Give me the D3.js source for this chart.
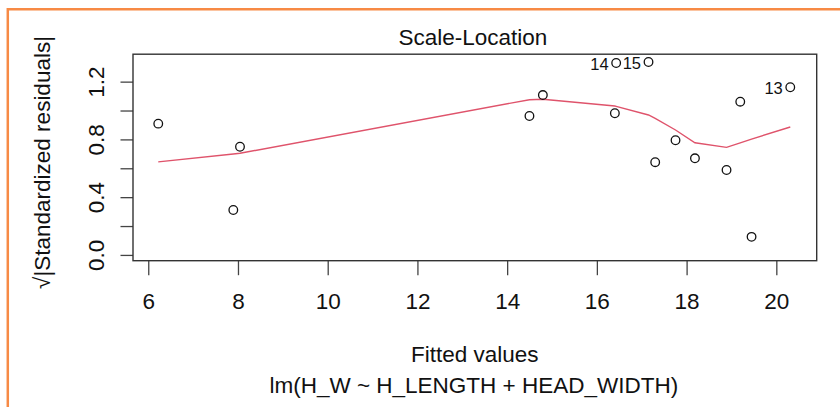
<!DOCTYPE html>
<html>
<head>
<meta charset="utf-8">
<script src="https://cdn.jsdelivr.net/npm/d3@7"></script>
<style>
  body { margin: 0; background: #fff; }
  svg text { font-family: "Liberation Sans", Arial, sans-serif; fill: #111; }
</style>
</head>
<body>
<div id="chart"></div>
<script>
// values
const fitted   = [6.223, 7.896, 8.045, 14.497, 14.796, 16.401, 16.430, 17.151, 17.300, 17.753, 18.186, 18.890, 19.196, 19.448, 20.311];
const sqrtRes  = [0.909, 0.311, 0.749, 0.962, 1.107, 0.981, 1.329, 1.336, 0.642, 0.794, 0.669, 0.588, 1.061, 0.125, 1.161];
const smooth   = [0.644, 0.699, 0.704, 1.075, 1.078, 1.031, 1.029, 0.969, 0.946, 0.865, 0.777, 0.745, 0.776, 0.802, 0.886];
const pointIds = ["", "", "", "", "", "", "14", "15", "", "", "", "", "", "", "13"];
const xTicks = [6, 8, 10, 12, 14, 16, 18, 20];
const yTicks = [0, 0.2, 0.4, 0.6, 0.8, 1.0, 1.2];
const yLabelled = [0, 0.4, 0.8, 1.2];

const width = 840, height = 407;
const box = { left: 133, top: 54.2, right: 816.7, bottom: 260.7 };

const svg = d3.select("#chart")
  .append("svg")
    .attr("width", width)
    .attr("height", height);

// orange frame at left and top
svg.append("path")
  .attr("d", `M7.8,${height} L7.8,9.2 L${width},9.2`)
  .attr("fill", "none")
  .attr("stroke", "#F78A45")
  .attr("stroke-width", 2.5);

const x = d3.scaleLinear()
  .domain([5.66, 20.9])
  .range([box.left, box.right]);

const y = d3.scaleLinear()
  .domain([-0.04, 1.39])
  .range([box.bottom, box.top]);

const data = fitted.map((f, i) => ({ x: f, y: sqrtRes[i], s: smooth[i], id: pointIds[i] }));

// axes
const xAxis = svg.append("g")
  .attr("transform", `translate(0,${box.bottom})`)
  .call(d3.axisBottom(x).tickValues(xTicks).tickSize(14.5).tickFormat(d3.format("d")));

xAxis.select(".domain").remove();
xAxis.selectAll("line").attr("stroke", "#444").attr("stroke-width", 1.3);
xAxis.selectAll("text")
  .attr("y", 48.3)
  .attr("dy", null)
  .style("font-size", "22.5px");

const yAxis = svg.append("g")
  .attr("transform", `translate(${box.left},0)`)
  .call(d3.axisLeft(y).tickValues(yTicks).tickSize(12.5)
    .tickFormat(d => yLabelled.includes(d) ? d3.format(".1f")(d) : ""));

yAxis.select(".domain").remove();
yAxis.selectAll("line").attr("stroke", "#444").attr("stroke-width", 1.3);
yAxis.selectAll("text")
  .attr("x", null)
  .attr("dy", null)
  .attr("text-anchor", "middle")
  .attr("transform", "translate(-29,0) rotate(-90)")
  .style("font-size", "22.5px");

// plot box
svg.append("rect")
  .attr("x", box.left)
  .attr("y", box.top)
  .attr("width", box.right - box.left)
  .attr("height", box.bottom - box.top)
  .attr("fill", "none")
  .attr("stroke", "#333")
  .attr("stroke-width", 1.4);

// lowess smooth
svg.append("path")
  .datum(data)
  .attr("fill", "none")
  .attr("stroke", "#DF536B")
  .attr("stroke-width", 1.4)
  .attr("d", d3.line().x(d => x(d.x)).y(d => y(d.s)));

// points
svg.selectAll(".pt")
  .data(data)
  .enter().append("circle")
    .attr("class", "pt")
    .attr("cx", d => x(d.x))
    .attr("cy", d => y(d.y))
    .attr("r", 4.3)
    .attr("fill", "none")
    .attr("stroke", "#111")
    .attr("stroke-width", 1.3);

// point ids
svg.selectAll(".pt-id")
  .data(data.filter(d => d.id !== ""))
  .enter().append("text")
    .attr("class", "pt-id")
    .attr("x", d => x(d.x) - 7.5)
    .attr("y", d => y(d.y) + 7)
    .attr("text-anchor", "end")
    .style("font-size", "16.5px")
    .text(d => d.id);

// titles
svg.append("text")
  .attr("x", (box.left + box.right) / 2 - 2)
  .attr("y", 45)
  .attr("text-anchor", "middle")
  .style("font-size", "22.5px")
  .text("Scale-Location");

svg.append("text")
  .attr("x", (box.left + box.right) / 2)
  .attr("y", 361.7)
  .attr("text-anchor", "middle")
  .style("font-size", "22.5px")
  .text("Fitted values");

svg.append("text")
  .attr("x", (box.left + box.right) / 2 - 1)
  .attr("y", 393)
  .attr("text-anchor", "middle")
  .style("font-size", "22.5px")
  .text("lm(H_W ~ H_LENGTH + HEAD_WIDTH)");

svg.append("text")
  .attr("transform", `translate(50,${(box.top + box.bottom) / 2 + 5}) rotate(-90)`)
  .attr("text-anchor", "middle")
  .style("font-size", "22.5px")
  .text("√|Standardized residuals|");
</script>
</body>
</html>
